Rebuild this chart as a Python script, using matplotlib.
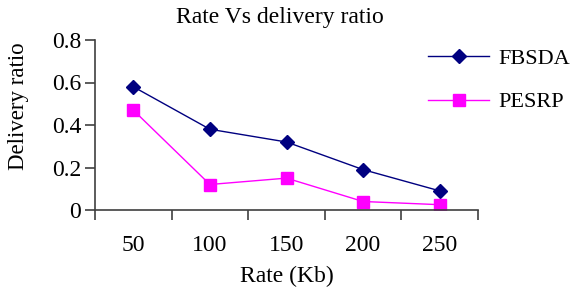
import matplotlib
matplotlib.use("Agg")
import matplotlib.pyplot as plt

categories = ["50", "100", "150", "200", "250"]
fbsda = [0.58, 0.38, 0.32, 0.19, 0.09]
pesrp = [0.47, 0.12, 0.15, 0.04, 0.025]
yticks = [0, 0.2, 0.4, 0.6, 0.8]
ytick_labels = ["0", "0.2", "0.4", "0.6", "0.8"]

plt.rcParams['font.family'] = ['Liberation Serif', 'DejaVu Serif']
FS = 17

fig = plt.figure(figsize=(5.71, 2.87), dpi=100)
ax = fig.add_axes([95/571, 1-210/287, (478-95)/571, 170/287])

x = list(range(len(categories)))
ax.plot(x, fbsda, color='#000080', marker='D', markersize=7.5, linewidth=1, label='FBSDA')
ax.plot(x, pesrp, color='#ff00ff', marker='s', markersize=9, linewidth=1, label='PESRP')

ax.set_xlim(-0.5, len(categories) - 0.5)
ax.set_ylim(0, 0.8)
ax.set_yticks(yticks)
ax.set_yticklabels(ytick_labels)
ax.set_xticks(x)
ax.set_xticklabels(categories)
ax.set_xticks([i - 0.5 for i in range(len(categories) + 1)], minor=True)
ax.tick_params(axis='x', which='major', length=0, pad=18, labelsize=FS, colors='black')
ax.tick_params(axis='x', which='minor', length=7, width=1.2, color='#404040', direction='out')
ax.tick_params(axis='y', length=7, width=1.2, color='#404040', labelsize=FS, pad=3)
for s in ['top', 'right']:
    ax.spines[s].set_visible(False)
for s in ['left', 'bottom']:
    ax.spines[s].set_color('#404040')
    ax.spines[s].set_linewidth(1.2)
ax.spines['bottom'].set_bounds(-0.5, len(categories) - 0.5)

ax.set_xlabel('Rate (Kb)', fontsize=FS, labelpad=7)
ax.set_ylabel('Delivery ratio', fontsize=16.5)
ax.yaxis.set_label_coords(29/571, 1-106.5/287, transform=fig.transFigure)
fig.text(280/571, 1-18/287, 'Rate Vs delivery ratio', ha='center', va='center', fontsize=FS)

ax.legend(loc='upper left', bbox_to_anchor=(428/571, 1-48/287), bbox_transform=fig.transFigure,
          frameon=False, fontsize=16, handlelength=2.75, handletextpad=0.4, labelspacing=1.05,
          borderaxespad=0, borderpad=0)

fig.savefig('out.png', dpi=100)
